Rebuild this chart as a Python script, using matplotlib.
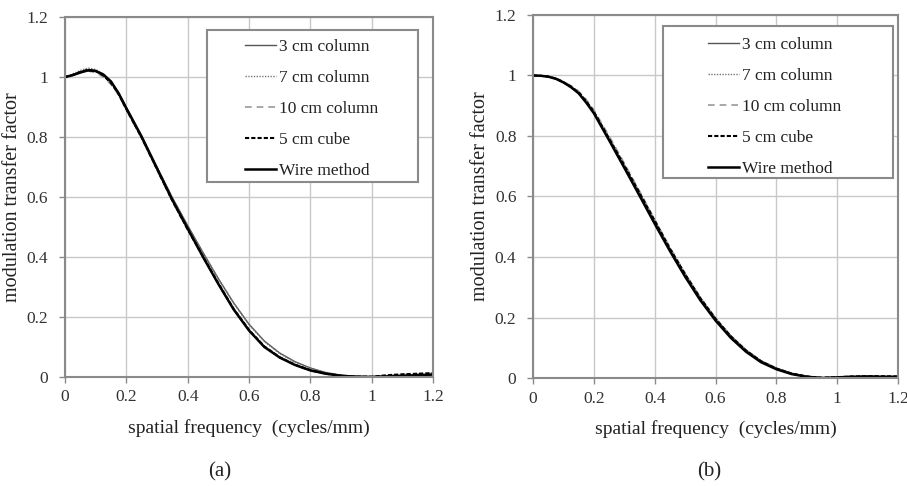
import matplotlib
matplotlib.use("Agg")
import matplotlib.pyplot as plt
from matplotlib.patches import Rectangle

plt.rcParams['font.family'] = ['Liberation Serif', 'DejaVu Serif']

# spatial frequency (cycles/mm)
freq = [0, 0.025, 0.05, 0.075, 0.1, 0.125, 0.15, 0.175, 0.2, 0.25, 0.3, 0.35,
        0.4, 0.45, 0.5, 0.55, 0.6, 0.65, 0.7, 0.75, 0.8, 0.85, 0.9, 0.95,
        1.0, 1.05, 1.1, 1.15, 1.2]

labels = ['3 cm column', '7 cm column', '10 cm column', '5 cm cube', 'Wire method']
ticks = [0, 0.2, 0.4, 0.6, 0.8, 1.0, 1.2]
tick_text = ['0', '0.2', '0.4', '0.6', '0.8', '1', '1.2']

# panel (a)
a_3cm = [1.0, 1.008, 1.018, 1.025, 1.022, 1.01, 0.985, 0.948, 0.9, 0.805, 0.70, 0.598,
         0.505, 0.415, 0.328, 0.247, 0.176, 0.12, 0.08, 0.051, 0.03, 0.015, 0.006, 0.002,
         0.001, 0.003, 0.005, 0.006, 0.008]
a_7cm = [1.0, 1.01, 1.022, 1.03, 1.025, 1.01, 0.98, 0.94, 0.895, 0.80, 0.70, 0.597,
         0.503, 0.413, 0.326, 0.245, 0.174, 0.118, 0.078, 0.049, 0.029, 0.014, 0.005, 0.002,
         0.001, 0.004, 0.006, 0.008, 0.010]
a_10cm = [1.0, 1.005, 1.015, 1.02, 1.015, 1.0, 0.975, 0.94, 0.89, 0.795, 0.69, 0.585,
          0.49, 0.40, 0.31, 0.225, 0.155, 0.10, 0.064, 0.039, 0.021, 0.01, 0.004, 0.001,
          0.0, 0.005, 0.008, 0.01, 0.012]
a_cube = [1.0, 1.007, 1.017, 1.024, 1.02, 1.005, 0.98, 0.943, 0.893, 0.798, 0.693, 0.588,
          0.492, 0.402, 0.312, 0.227, 0.157, 0.102, 0.066, 0.041, 0.023, 0.011, 0.004, 0.001,
          0.001, 0.006, 0.009, 0.011, 0.013]
a_wire = [1.0, 1.006, 1.015, 1.022, 1.02, 1.008, 0.985, 0.945, 0.895, 0.80, 0.695, 0.59,
          0.495, 0.40, 0.31, 0.225, 0.155, 0.10, 0.065, 0.04, 0.022, 0.011, 0.004, 0.001,
          0.0, 0.002, 0.004, 0.006, 0.008]

# panel (b)
b_3cm = [1.0, 0.999, 0.996, 0.989, 0.977, 0.962, 0.943, 0.913, 0.878, 0.79, 0.70, 0.61,
         0.518, 0.427, 0.342, 0.264, 0.197, 0.14, 0.093, 0.057, 0.033, 0.016, 0.006, 0.001,
         0.002, 0.004, 0.005, 0.004, 0.004]
b_7cm = [1.0, 0.999, 0.997, 0.99, 0.979, 0.964, 0.946, 0.917, 0.882, 0.795, 0.706, 0.615,
         0.522, 0.43, 0.345, 0.266, 0.198, 0.14, 0.092, 0.056, 0.032, 0.015, 0.005, 0.001,
         0.003, 0.005, 0.006, 0.005, 0.005]
b_10cm = [1.0, 0.999, 0.997, 0.991, 0.98, 0.966, 0.948, 0.92, 0.886, 0.8, 0.71, 0.618,
          0.524, 0.432, 0.346, 0.266, 0.197, 0.138, 0.09, 0.054, 0.03, 0.014, 0.004, 0.0,
          0.003, 0.006, 0.006, 0.005, 0.005]
b_cube = [1.0, 0.999, 0.996, 0.99, 0.978, 0.963, 0.944, 0.915, 0.88, 0.792, 0.703, 0.612,
          0.52, 0.428, 0.343, 0.264, 0.196, 0.138, 0.091, 0.055, 0.031, 0.015, 0.005, 0.001,
          0.003, 0.005, 0.006, 0.006, 0.005]
b_wire = [1.0, 0.999, 0.996, 0.989, 0.977, 0.961, 0.941, 0.91, 0.875, 0.786, 0.695, 0.603,
          0.51, 0.42, 0.335, 0.257, 0.19, 0.133, 0.087, 0.052, 0.029, 0.013, 0.004, 0.0,
          0.002, 0.004, 0.005, 0.004, 0.004]

styles = [dict(color='#555555', lw=1.0, ls='-'),
          dict(color='#777777', lw=1.0, ls=(0, (1, 1))),
          dict(color='#999999', lw=1.2, ls=(0, (4, 3))),
          dict(color='black', lw=1.5, ls=(0, (2, 1))),
          dict(color='black', lw=1.8, ls='-')]

fig = plt.figure(figsize=(9.07, 4.86), dpi=100)
ax1 = fig.add_axes([0.0717, 0.2243, 0.4057, 0.7407])
ax2 = fig.add_axes([0.5877, 0.2222, 0.4024, 0.747])

# frame box (x0, y0, x1, y1), legend anchor (x, y), tag x
panels = [(ax1, [a_3cm, a_7cm, a_10cm, a_cube, a_wire], (0.386, 0.542, 0.959, 0.964), (0.489, 0.940), '(a)', 0.242),
          (ax2, [b_3cm, b_7cm, b_10cm, b_cube, b_wire], (0.356, 0.551, 0.986, 0.970), (0.479, 0.940), '(b)', 0.782)]

for ax, series, box, anc, tag, tx in panels:
    for vals, lab, st in zip(series, labels, styles):
        ax.plot(freq, vals, label=lab, **st)
    ax.set_xlim(0, 1.2)
    ax.set_ylim(0, 1.2)
    ax.set_xticks(ticks)
    ax.set_xticklabels(tick_text)
    ax.set_yticks(ticks)
    ax.set_yticklabels(tick_text)
    ax.grid(True, color='#c8c8c8', lw=1.0)
    ax.set_axisbelow(True)
    for sp in ax.spines.values():
        sp.set_color('#8a8a8a')
        sp.set_linewidth(1.5)
    ax.tick_params(labelsize=12.5, colors='#333333', length=4, width=1, color='#8a8a8a')
    ax.tick_params(axis='x', pad=5)
    ax.tick_params(axis='y', pad=8)
    ax.set_xlabel('spatial frequency  (cycles/mm)', fontsize=14, color='#222222', labelpad=10)
    ax.set_ylabel('modulation transfer factor', fontsize=14.5, color='#222222', labelpad=3)

    frame = Rectangle((box[0], box[1]), box[2] - box[0], box[3] - box[1],
                      transform=ax.transAxes, facecolor='white', edgecolor='#8a8a8a',
                      lw=1.5, zorder=5, clip_on=False)
    ax.add_patch(frame)
    lg = ax.legend(loc='upper left', bbox_to_anchor=anc, frameon=False,
                   fontsize=12.5, handlelength=1.8, handletextpad=0.15,
                   labelspacing=0.86, borderpad=0, borderaxespad=0)
    lg.set_zorder(6)
    for t in lg.get_texts():
        t.set_color('#222222')
    fig.text(tx, 0.02, tag, fontsize=15, ha='center', color='#222222')

fig.savefig('out.png', dpi=100)
